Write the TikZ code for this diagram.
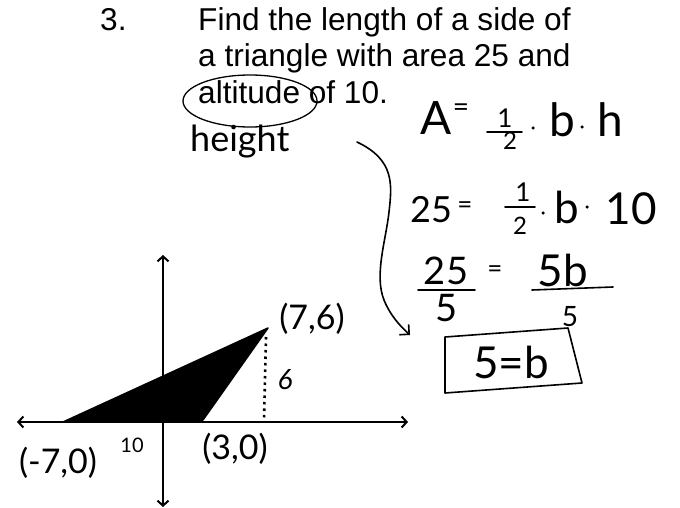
\documentclass[tikz,border=0pt]{standalone}
\usepackage{fontspec}
\setmainfont{Liberation Sans}
\newfontfamily\hwfont{Lato}
\usetikzlibrary{arrows.meta}
\newcommand{\setfs}[1]{\fontsize{#1}{#1}\selectfont}
\begin{document}
\begin{tikzpicture}[x=1pt,y=-1pt,
  prob/.style={inner sep=0pt, anchor=base west, font=\setfs{31.6}},
  hw/.style={inner sep=0pt, font=\hwfont\setfs{#1}},
  hw/.default=40,
  ink/.style={line width=1.6pt, line cap=round, line join=round},
  axis/.style={line width=2pt, {Straight Barb[length=5pt,width=11pt,line width=2pt]}-{Straight Barb[length=5pt,width=11pt,line width=2pt]}},
  dotty/.style={line width=2.6pt, dash pattern=on 2.5pt off 4pt},
  hdot/.style={circle, fill=black, inner sep=0pt, minimum size=3.5pt}]
\useasboundingbox (0,0) rectangle (680,508);
% problem text
\node[prob] (num) at (100,31) {3.};
\node[prob] (l1) at (198,31) {Find the length of a side of};
\node[prob] (l2) at (198,67) {a triangle with area 25 and};
\node[prob] (l3) at (198,104) {altitude of 10.};
\draw[ink, line width=1.3pt] (250,101) ellipse [x radius=67pt, y radius=26pt];
\node[hw=36, anchor=base west] (height) at (190,152) {height};
% axes
\coordinate (xl) at (17,422); \coordinate (xr) at (408,422);
\coordinate (yt) at (163,255); \coordinate (yb) at (163,507);
\draw[axis] (xl) -- (xr);
\draw[axis] (yb) -- (yt);
% triangle
\coordinate (P) at (63,422); \coordinate (Q) at (203,420); \coordinate (R) at (268,328);
\fill[black] (P) -- (Q) -- (R) -- cycle;
\draw[line width=1.5pt, line join=round] (P) -- (Q) -- (R) -- cycle;
\coordinate (F) at (264,420); \coordinate (Rt) at (266,337);
\draw[dotty] (Rt) -- (F);
\node[hw=34] (l76) at (312,319) {(7,6)};
\node[hw=34] (l30) at (235,449) {(3,0)};
\node[hw=34] (lm70) at (58,463) {(-7,0)};
\node[hw=20] (ten) at (132,445) {10};
\node[hw=28, font=\hwfont\itshape\setfs{28}] (six) at (285,380) {6};
% curved arrow
\coordinate (c0) at (357,142); \coordinate (c1) at (389,212); \coordinate (c2) at (384,300);
\coordinate (c3) at (410,335);
\draw[ink, -{Straight Barb[length=7pt,width=14pt,line width=1.6pt]}] (c0) .. controls (395,160) and (392,185) .. (c1)
  .. controls (386,240) and (374,275) .. (c2) .. controls (390,315) and (400,326) .. (c3);
% formula 1
\node[hw=46, anchor=base] (A) at (436,135) {A};
\node[hw=28] (eq1) at (461,110) {=};
\node[hw=26] (n1) at (505,118) {1};
\draw[ink] (487,132) coordinate (b1s) -- (522,132) coordinate (b1e);
\node[hw=24] (d1) at (510,141) {2};
\node[hdot] (dt1) at (533,128) {};
\node[hw=46, anchor=base] (bb1) at (562,137) {b};
\node[hdot] (dt2) at (582,127) {};
\node[hw=46, anchor=base] (h1) at (610,137) {h};
% formula 2
\node[hw=36] (f2a) at (431,210) {25};
\node[hw=26] (eq2) at (465,208) {=};
\node[hw=26] (n2) at (523,192) {1};
\draw[ink] (505,207) coordinate (b2s) -- (535,207) coordinate (b2e);
\node[hw=24] (d2) at (520,226) {2};
\node[hdot] (dt3) at (543,213) {};
\node[hw=44] (bb2) at (567,207) {b};
\node[hdot] (dt4) at (587,207) {};
\node[hw=44] (t2) at (631,209) {10};
% formula 3
\node[hw=38] (f3a) at (446,271) {25};
\draw[ink] (418,290) coordinate (b3s) -- (475,290) coordinate (b3e);
\node[hw=38] (f3b) at (447,308) {5};
\node[hw=26] (eq3) at (495,272) {=};
\node[hw=44] (f3c) at (563,270) {5b};
\draw[ink] (532,290) coordinate (b4s) -- (613,287) coordinate (b4e);
\node[hw=28] (f3d) at (570,317) {5};
% boxed answer
\coordinate (k1) at (445,337); \coordinate (k2) at (568,328);
\coordinate (k3) at (582,383); \coordinate (k4) at (445,393);
\draw[ink] (k1) -- (k2) -- (k3) -- (k4) -- cycle;
\node[hw=44] (ans) at (511,362) {5=b};
\end{tikzpicture}
\end{document}
